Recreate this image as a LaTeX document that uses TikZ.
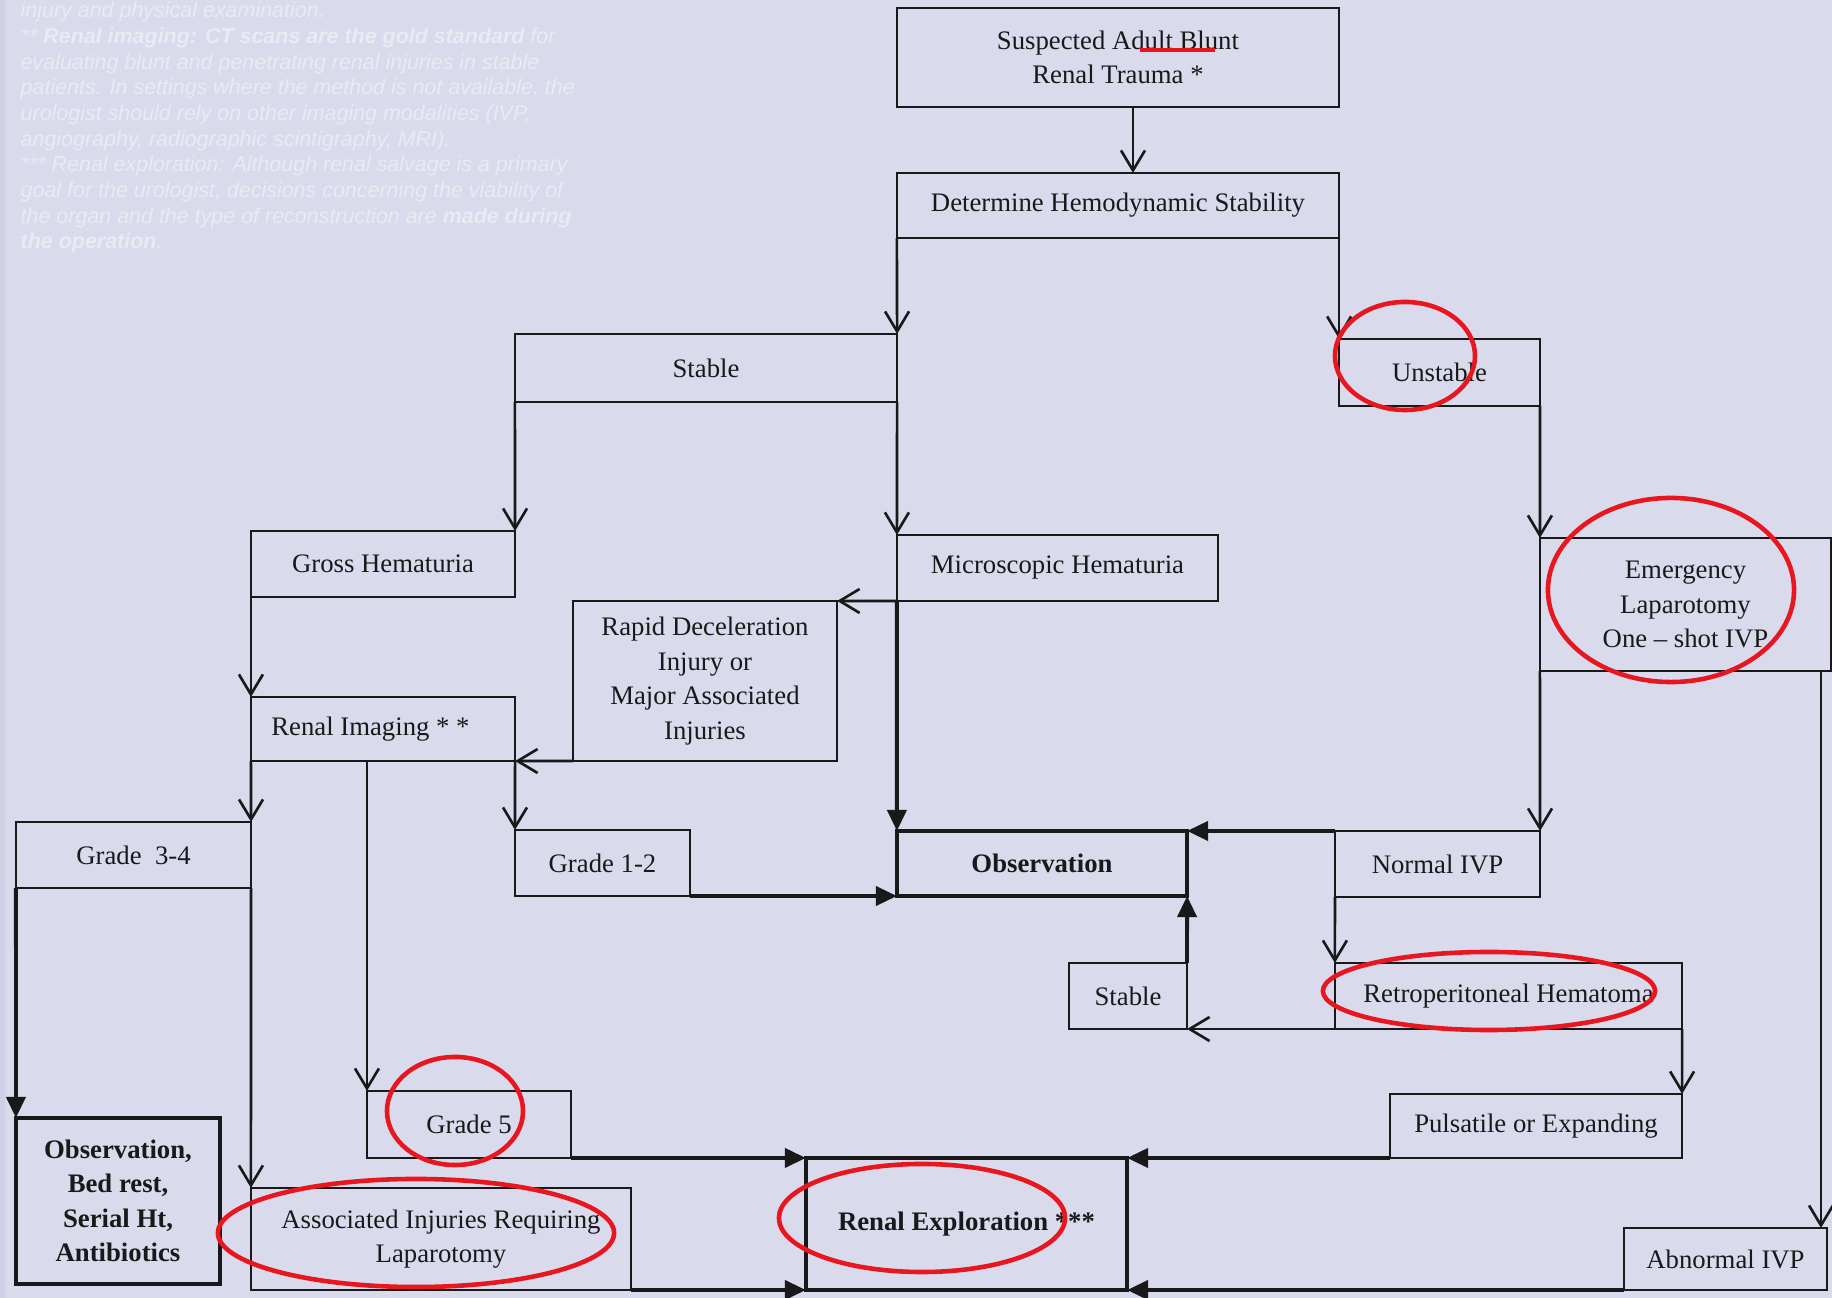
\documentclass[tikz,border=0pt]{standalone}
\usepackage{fontspec}
\setmainfont{Liberation Serif}
\newfontfamily\fnfont{Liberation Sans}
\usetikzlibrary{arrows.meta}
\definecolor{bg}{RGB}{218,218,237}
\definecolor{bgedge}{RGB}{208,208,230}
\definecolor{ink}{RGB}{25,25,25}
\definecolor{annred}{RGB}{232,22,30}
\definecolor{fntext}{RGB}{234,234,243}
\begin{document}
\begin{tikzpicture}[x=0.01cm,y=-0.01cm,
 box/.style={draw=ink, line width=0.75pt, inner sep=0pt, outer sep=0pt, align=center, text=ink, font=\fontsize{7.6}{9.8}\selectfont},
 tbox/.style={box, line width=1.1pt},
 oarr/.style={draw=ink, line width=0.75pt, -{Straight Barb[length=0.2cm,width=0.24cm,line width=0.75pt]}},
 farr/.style={draw=ink, line width=1.1pt, -{Triangle[length=0.21cm,width=0.19cm]}},
 ann/.style={draw=annred, line width=1.3pt},
 fn/.style={anchor=base west, inner sep=0pt, text=fntext, font=\fnfont\fontsize{6.1}{7.3}\selectfont\itshape}]
\useasboundingbox (0,0) rectangle (1832,1298);
\fill[bg] (0,0) rectangle (1832,1298);
\fill[bgedge] (0,0) rectangle (5,1298);
\clip (0,0) rectangle (1832,1298);

% footnote text
\node[fn] (fn1) at (20,18) {injury and physical examination.};
\node[fn] (fn2) at (20,44) {** \textbf{Renal imaging: CT scans are the gold standard} for};
\node[fn] (fn3) at (20,69.5) {evaluating blunt and penetrating renal injuries in stable};
\node[fn] (fn4) at (20,95) {patients. In settings where the method is not available, the};
\node[fn] (fn5) at (20,121) {urologist should rely on other imaging modalities (IVP,};
\node[fn] (fn6) at (20,146.5) {angiography, radiographic scintigraphy, MRI).};
\node[fn] (fn7) at (20,172) {*** Renal exploration: Although renal salvage is a primary};
\node[fn] (fn8) at (20,198) {goal for the urologist, decisions concerning the viability of};
\node[fn] (fn9) at (20,223.5) {the organ and the type of reconstruction are \textbf{made during}};
\node[fn] (fn10) at (20,249) {\textbf{the operation}.};

% boxes
\node[box, minimum width=4.42cm, minimum height=0.99cm] (sus) at (1118,57.5) {Suspected Adult Blunt\\Renal Trauma *};
\node[box, minimum width=4.42cm, minimum height=0.65cm] (det) at (1118,205.5) {Determine Hemodynamic Stability};
\node[box, minimum width=3.82cm, minimum height=0.68cm] (stab) at (706,368) {Stable};
\node[box, minimum width=2.01cm, minimum height=0.67cm] (unst) at (1439.5,372.5) {Unstable};
\node[box, minimum width=2.64cm, minimum height=0.66cm] (gross) at (383,564) {Gross Hematuria};
\node[box, minimum width=3.21cm, minimum height=0.66cm] (micro) at (1057.5,568) {Microscopic Hematuria};
\node[box, minimum width=2.64cm, minimum height=1.60cm] (rapid) at (705,681) {Rapid Deceleration\\Injury or\\Major Associated\\Injuries};
\node[box, minimum width=2.91cm, minimum height=1.33cm] (emerg) at (1685.5,604.5) {Emergency\\Laparotomy\\One -- shot IVP};
\node[box, minimum width=2.64cm, minimum height=0.64cm] (rimg) at (383,729) {Renal Imaging * *\hspace*{0.25cm}};
\node[box, minimum width=2.35cm, minimum height=0.66cm] (g34) at (133.5,855) {Grade\enspace 3-4};
\node[box, minimum width=1.75cm, minimum height=0.66cm] (g12) at (602.5,863) {Grade 1-2};
\node[tbox, minimum width=2.90cm, minimum height=0.65cm] (obs) at (1042,863.5) {\bfseries Observation};
\node[box, minimum width=2.05cm, minimum height=0.66cm] (nivp) at (1437.5,864) {Normal IVP};
\node[box, minimum width=1.18cm, minimum height=0.66cm] (stab2) at (1128,996) {Stable};
\node[box, minimum width=3.47cm, minimum height=0.66cm] (retro) at (1508.5,996) {Retroperitoneal Hematoma};
\node[box, minimum width=2.92cm, minimum height=0.64cm] (puls) at (1536,1126) {Pulsatile or Expanding};
\node[box, minimum width=2.03cm, minimum height=0.62cm] (abn) at (1725.5,1259) {Abnormal IVP};
\node[tbox, minimum width=3.21cm, minimum height=1.32cm] (rexp) at (966.5,1224) {\bfseries Renal Exploration ***};
\node[box, minimum width=2.04cm, minimum height=0.67cm] (g5) at (469,1124.5) {Grade 5};
\node[box, minimum width=3.80cm, minimum height=1.02cm] (assoc) at (441,1239) {Associated Injuries Requiring\\Laparotomy};
\node[tbox, minimum width=2.04cm, minimum height=1.66cm] (obsbed) at (118,1201) {\bfseries Observation,\\\bfseries Bed rest,\\\bfseries Serial Ht,\\\bfseries Antibiotics};

% connectors
\coordinate (xs) at (1133,0);
\coordinate (xr) at (1821,0);
\draw[oarr] (sus.south -| xs) -- (det.north -| xs);
\draw[oarr] (det.south west) -- (stab.north east);
\draw[oarr] (det.south east) -- (det.south east |- unst.north);
\draw[oarr] (stab.south west) -- (gross.north east);
\draw[oarr] (stab.south east) -- (micro.north west);
\draw[oarr] (unst.south east) -- (emerg.north west);
\draw[oarr] (gross.south west) -- (rimg.north west);
\draw[oarr] (micro.south west) -- (rapid.north east);
\draw[farr] (micro.south west) -- (obs.north west);
\draw[oarr] (rapid.south west) -- (rimg.south east);
\draw[oarr] (rimg.south west) -- (g34.north east);
\draw[oarr] (rimg.south east) -- (g12.north west);
\draw[oarr] (g5.north west |- rimg.south) -- (g5.north west);
\draw[oarr] (emerg.south west) -- (nivp.north east);
\draw[oarr] (emerg.south -| xr) -- (abn.north -| xr);
\draw[farr] (g12.south east) -- (obs.south west);
\draw[farr] (nivp.north west) -- (obs.north east);
\draw[oarr] (nivp.south west) -- (retro.north west);
\draw[farr] (stab2.north east) -- (obs.south east);
\draw[oarr] (retro.south west) -- (stab2.south east);
\draw[oarr] (retro.south east) -- (puls.north east);
\draw[farr] (g34.south west) -- (obsbed.north west);
\draw[oarr] (g34.south east) -- (assoc.north west);
\draw[farr] (g5.south east) -- (rexp.north west);
\draw[farr] (assoc.south east) -- (rexp.south west);
\draw[farr] (puls.south west) -- (rexp.north east);
\draw[farr] (abn.south west) -- (rexp.south east);

% red annotations
\draw[annred, line width=0.045cm] (1140,50) -- (1215,50);
\draw[ann] (1405,356) ellipse [x radius=0.70cm, y radius=0.54cm];
\draw[ann] (1671,590) ellipse [x radius=1.23cm, y radius=0.92cm];
\draw[ann] (1489,991) ellipse [x radius=1.66cm, y radius=0.39cm];
\draw[ann] (455,1111) ellipse [x radius=0.68cm, y radius=0.54cm];
\draw[ann] (416,1233) ellipse [x radius=1.98cm, y radius=0.54cm];
\draw[ann] (922,1218) ellipse [x radius=1.43cm, y radius=0.54cm];
\end{tikzpicture}
\end{document}
